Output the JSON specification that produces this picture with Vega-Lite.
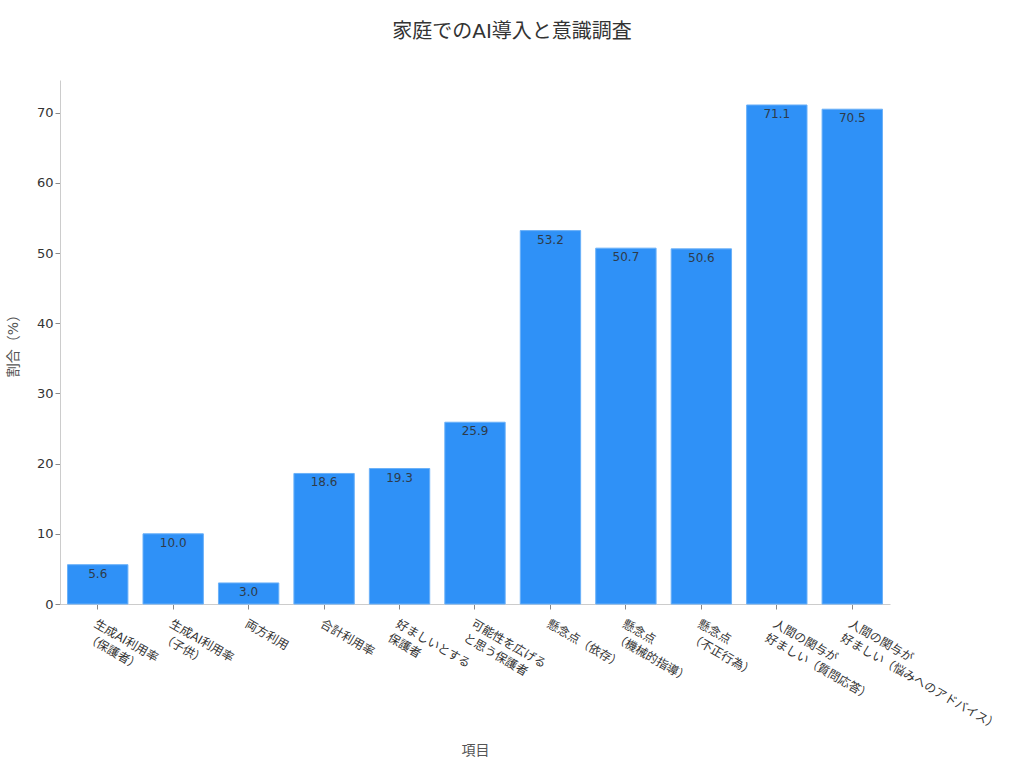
{
  "$schema": "https://vega.github.io/schema/vega-lite/v6.json",
  "autosize": {"type": "none"},
  "padding": {"left": 60, "top": 80, "right": 134, "bottom": 164},
  "width": 830,
  "height": 524,
  "background": "#ffffff",
  "config": {
    "view": {"stroke": null},
    "font": "DejaVu Sans, Noto Sans CJK JP",
    "axis": {
      "labelFont": "DejaVu Sans, Noto Sans CJK JP",
      "titleFont": "DejaVu Sans, Noto Sans CJK JP",
      "domainColor": "#cccccc",
      "tickColor": "#888888",
      "labelColor": "#333333",
      "titleColor": "#555555",
      "titleFontWeight": "normal",
      "grid": false
    }
  },
  "title": {
    "text": "家庭でのAI導入と意識調査",
    "fontSize": 20,
    "fontWeight": "normal",
    "color": "#333333",
    "anchor": "middle",
    "dx": 37,
    "offset": 38
  },
  "data": {
    "values": [
      {"item": "生成AI利用率\n（保護者）", "value": 5.6},
      {"item": "生成AI利用率\n（子供）", "value": 10.0},
      {"item": "両方利用", "value": 3.0},
      {"item": "合計利用率", "value": 18.6},
      {"item": "好ましいとする\n保護者", "value": 19.3},
      {"item": "可能性を広げる\nと思う保護者", "value": 25.9},
      {"item": "懸念点（依存）", "value": 53.2},
      {"item": "懸念点\n（機械的指導）", "value": 50.7},
      {"item": "懸念点\n（不正行為）", "value": 50.6},
      {"item": "人間の関与が\n好ましい（質問応答）", "value": 71.1},
      {"item": "人間の関与が\n好ましい（悩みへのアドバイス）", "value": 70.5}
    ]
  },
  "encoding": {
    "x": {
      "field": "item",
      "type": "nominal",
      "sort": null,
      "title": "項目",
      "scale": {"paddingInner": 0.2, "paddingOuter": 0.1},
      "axis": {
        "labelAngle": 30,
        "labelAlign": "left",
        "labelBaseline": "top",
        "labelFontSize": 12,
        "labelLineHeight": 16,
        "labelPadding": 9,
        "labelLimit": 400,
        "labelExpr": "split(datum.label, '\\n')",
        "tickSize": 5,
        "titleFontSize": 14,
        "titleY": 146,
        "titleBaseline": "middle"
      }
    },
    "y": {
      "field": "value",
      "type": "quantitative",
      "title": "割合（%）",
      "scale": {"domain": [0, 74.66], "nice": false},
      "axis": {
        "values": [0, 10, 20, 30, 40, 50, 60, 70],
        "labelFontSize": 13,
        "tickSize": 5,
        "titleFontSize": 14,
        "titlePadding": 16
      }
    }
  },
  "layer": [
    {
      "mark": {"type": "bar", "fill": "#2F91F7", "stroke": "#6AB0F8", "strokeWidth": 1}
    },
    {
      "mark": {"type": "text", "baseline": "top", "dy": 4, "fontSize": 12, "color": "#2E3B4A"},
      "encoding": {
        "text": {"field": "value", "type": "quantitative", "format": ".1f"}
      }
    }
  ]
}
